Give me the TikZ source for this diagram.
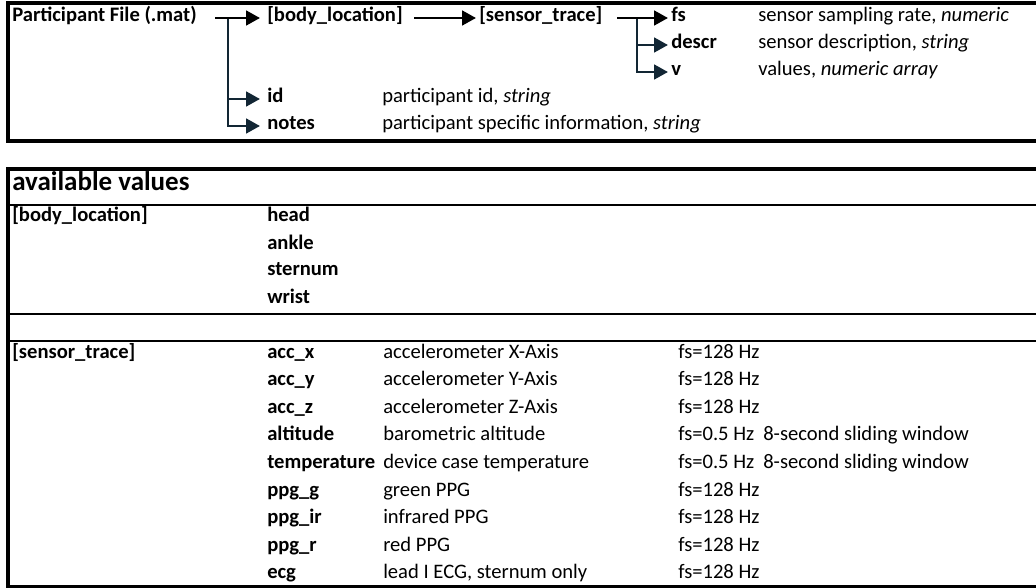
\documentclass[tikz,border=0pt]{standalone}
\usepackage{fontspec}
\setmainfont{Carlito}
\usetikzlibrary{arrows.meta}
\definecolor{navy}{RGB}{18,38,52}
\tikzset{
  txt/.style={anchor=west, inner sep=0pt, text height=0.7em, text depth=0.1em, font=\fontsize{15.45}{18}\selectfont},
  lab/.style={txt, font=\fontsize{15.45}{18}\selectfont\bfseries},
  hdr/.style={txt, font=\fontsize{20.25}{24}\selectfont\bfseries},
  frame/.style={line width=3pt},
  sepline/.style={line width=1.5pt},
  blkarr/.style={line width=2.1pt, -{Triangle[length=10.5pt,width=11pt]}},
  navarr/.style={blkarr, draw=navy, color=navy},
}
\begin{document}
\begin{tikzpicture}[x=0.75pt,y=-0.75pt]
\useasboundingbox (0,0) rectangle (1036,588);
\clip (0,0) rectangle (1036,588);
% frames
\draw[frame] (8,3) rectangle (1050,141);
\draw[frame] (8,169) rectangle (1050,586.5);
\draw[sepline] (8,205) -- (1050,205);
\draw[sepline] (8,313.5) -- (1050,313.5);
\draw[sepline] (8,341) -- (1050,341);

% ---- top box
\node[lab] (pf) at (12,18) {Participant File (.mat)};
\node[lab] (bl) at (267,18) {[body\_location]};
\node[lab] (st) at (479,18) {[sensor\_trace]};
\node[lab] (fs) at (671,18) {fs};
\node[lab] (descr) at (671,45) {descr};
\node[lab] (v) at (671,72) {v};
\node[txt] (fsd) at (758,18) {sensor sampling rate, \textit{numeric}};
\node[txt] (descrd) at (758,45) {sensor description, \textit{string}};
\node[txt] (vd) at (758,72) {values, \textit{numeric array}};
\node[lab] (id) at (267,99) {id};
\node[lab] (notes) at (267,126) {notes};
\node[txt] (idd) at (382,99) {participant id, \textit{string}};
\node[txt] (notesd) at (382,126) {participant specific information, \textit{string}};

\coordinate (s1) at (215,18);
\coordinate (j1) at (228,18);
\coordinate (s2) at (414,18);
\coordinate (s3) at (617,18);
\coordinate (j3) at (637,18);

\draw[navarr] (j1) |- ([xshift=-5.25pt]id.west);
\draw[navarr] (j1) |- ([xshift=-5.25pt]notes.west);
\draw[blkarr] (s1) -- ([xshift=-5.25pt]bl.west);
\draw[blkarr] (s2) -- ([xshift=-2.25pt]st.west);
\draw[navarr] (j3) |- ([xshift=-2.25pt]descr.west);
\draw[navarr] (j3) |- ([xshift=-2.25pt]v.west);
\draw[blkarr] (s3) -- ([xshift=-2.25pt]fs.west);

% ---- bottom box
\node[hdr] (av) at (12,187) {available values};
\node[lab] (blk) at (12,218) {[body\_location]};
\node[lab] (head) at (267,218) {head};
\node[lab] (ankle) at (267,245) {ankle};
\node[lab] (sternum) at (267,272) {sternum};
\node[lab] (wrist) at (267,299) {wrist};

\node[lab] (stk) at (12,354) {[sensor\_trace]};
\node[lab] (accx) at (267,354) {acc\_x};
\node[lab] (accy) at (267,381.6) {acc\_y};
\node[lab] (accz) at (267,409.2) {acc\_z};
\node[lab] (alt) at (267,436.8) {altitude};
\node[lab] (temp) at (267,464.4) {temperature};
\node[lab] (ppgg) at (267,492) {ppg\_g};
\node[lab] (ppgir) at (267,519.6) {ppg\_ir};
\node[lab] (ppgr) at (267,547.2) {ppg\_r};
\node[lab] (ecg) at (267,574.8) {ecg};

\node[txt] (daccx) at (383,354) {accelerometer X-Axis};
\node[txt] (daccy) at (383,381.6) {accelerometer Y-Axis};
\node[txt] (daccz) at (383,409.2) {accelerometer Z-Axis};
\node[txt] (dalt) at (383,436.8) {barometric altitude};
\node[txt] (dtemp) at (383,464.4) {device case temperature};
\node[txt] (dppgg) at (383,492) {green PPG};
\node[txt] (dppgir) at (383,519.6) {infrared PPG};
\node[txt] (dppgr) at (383,547.2) {red PPG};
\node[txt] (decg) at (383,574.8) {lead I ECG, sternum only};

\node[txt] (faccx) at (678,354) {fs=128 Hz};
\node[txt] (faccy) at (678,381.6) {fs=128 Hz};
\node[txt] (faccz) at (678,409.2) {fs=128 Hz};
\node[txt] (falt) at (678,436.8) {fs=0.5 Hz};
\node[txt] (ftemp) at (678,464.4) {fs=0.5 Hz};
\node[txt] (fppgg) at (678,492) {fs=128 Hz};
\node[txt] (fppgir) at (678,519.6) {fs=128 Hz};
\node[txt] (fppgr) at (678,547.2) {fs=128 Hz};
\node[txt] (fecg) at (678,574.8) {fs=128 Hz};

\node[txt] (walt) at (763,436.8) {8-second sliding window};
\node[txt] (wtemp) at (763,464.4) {8-second sliding window};
\end{tikzpicture}
\end{document}
